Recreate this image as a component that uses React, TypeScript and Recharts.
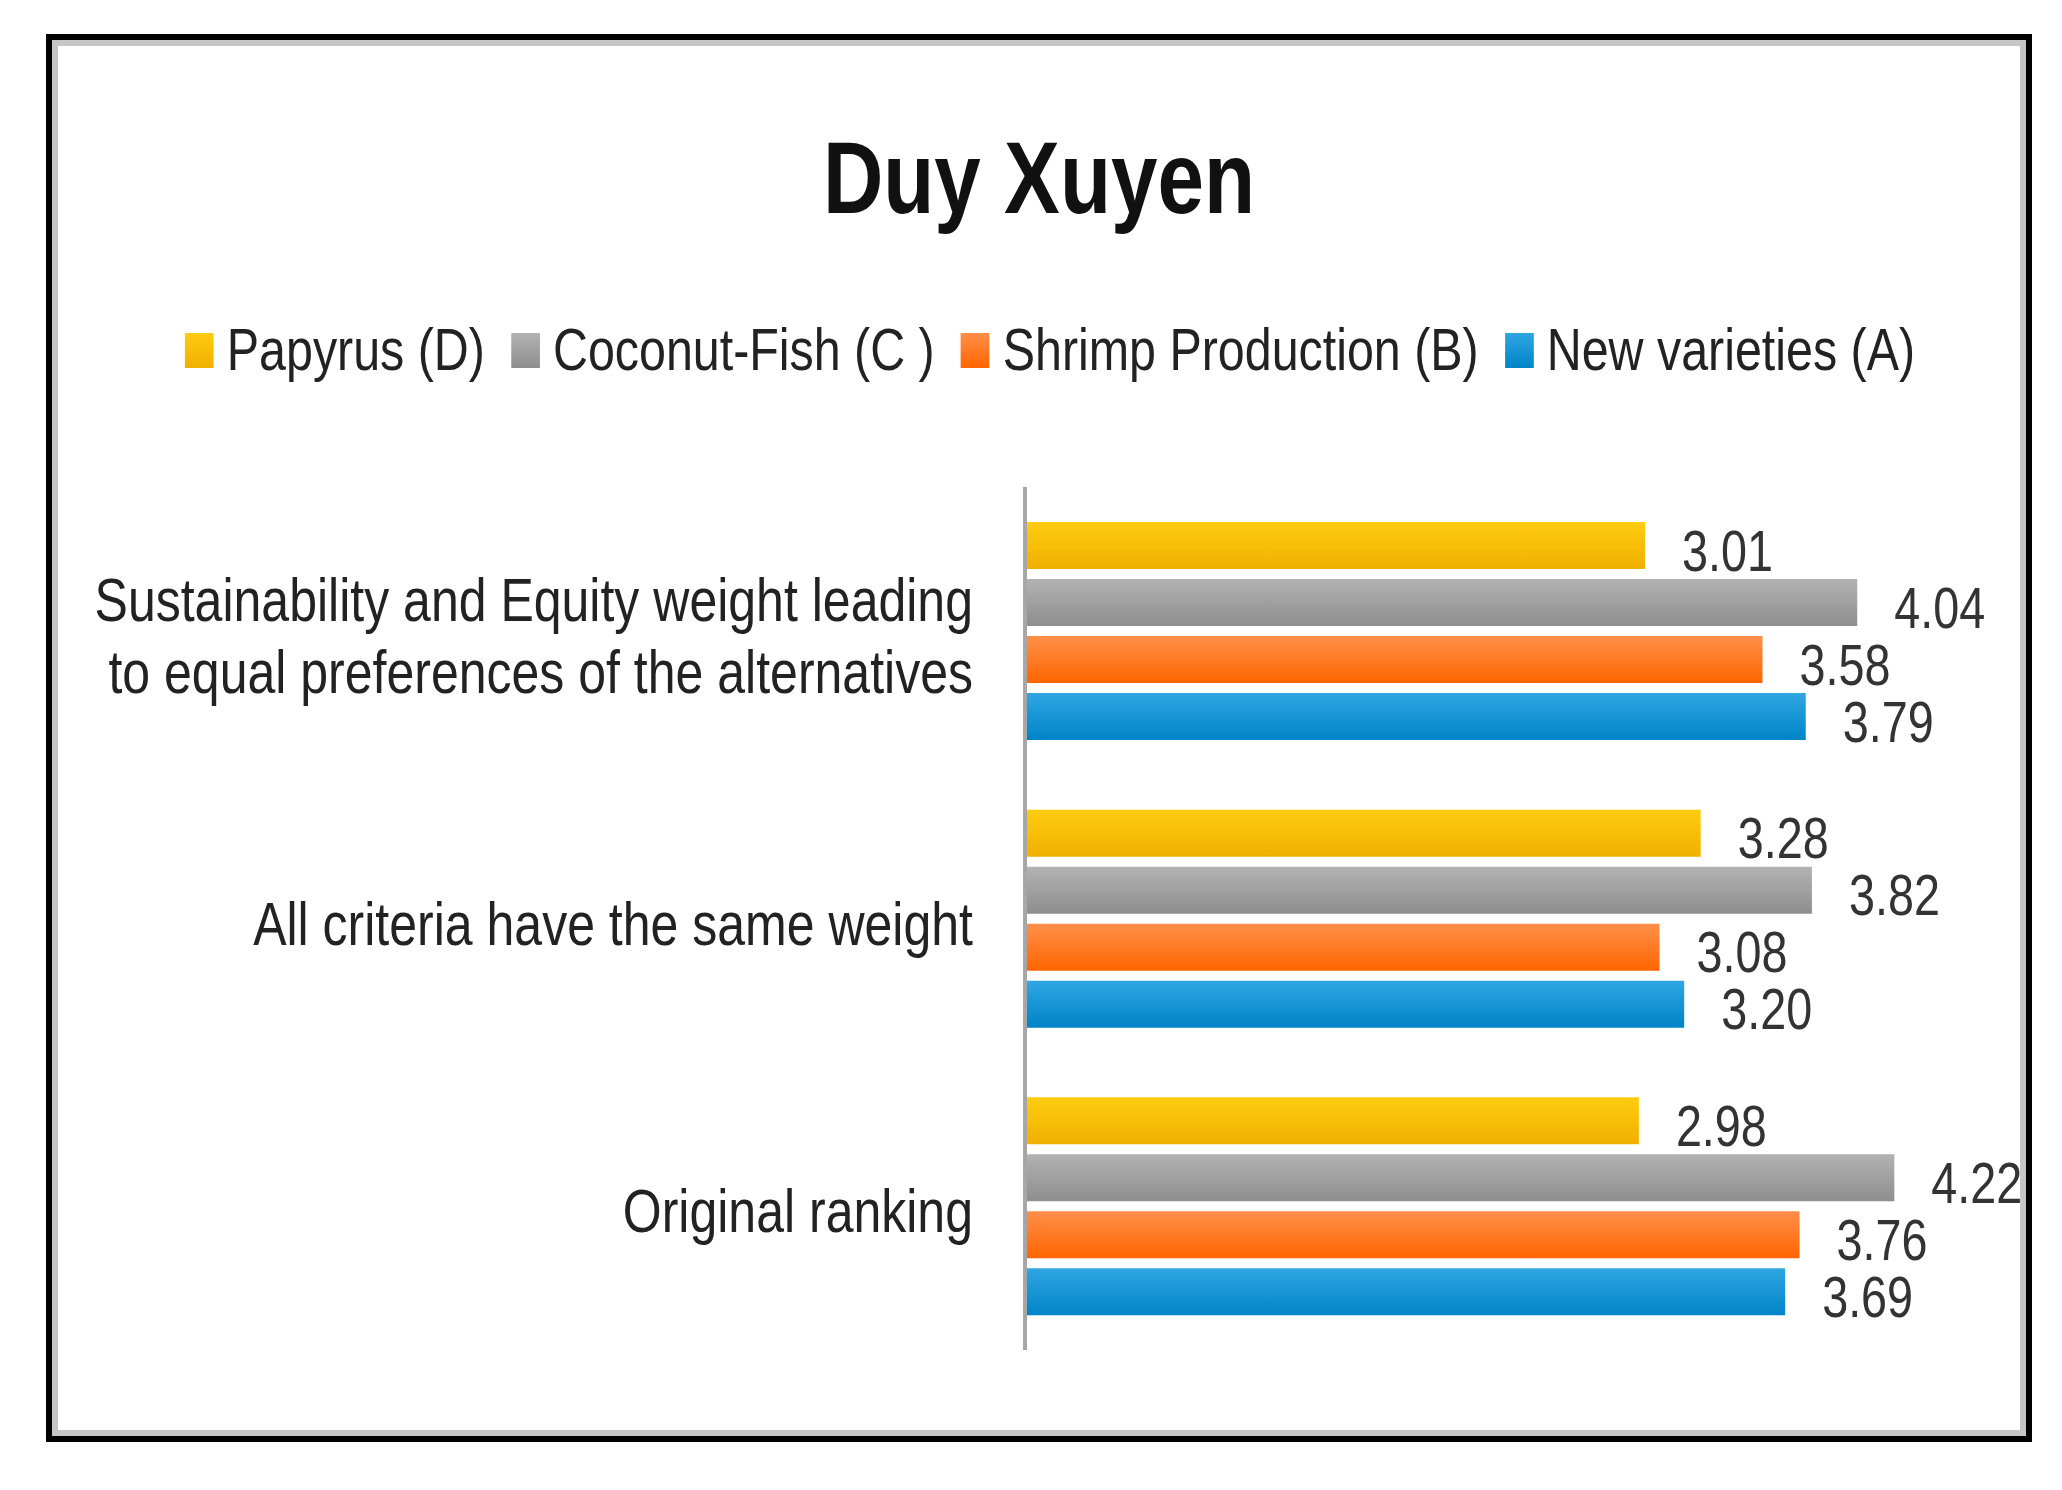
import { Bar, BarChart, LabelList, XAxis, YAxis } from "recharts";

// no narrow font installed, so text is squeezed horizontally to get the condensed look
const FONT = "'Liberation Sans', Arial, sans-serif";
const SQUEEZE = 0.82;

const title = "Duy Xuyen";

const categories = [
  "Sustainability and Equity weight leading\nto equal preferences of the alternatives",
  "All criteria have the same weight",
  "Original ranking",
];

const papyrus = [3.01, 3.28, 2.98];
const coconutFish = [4.04, 3.82, 4.22];
const shrimp = [3.58, 3.08, 3.76];
const newVarieties = [3.79, 3.2, 3.69];

const xDomain = [0, 4.5];

const series = [
  { key: "papyrus", name: "Papyrus (D)", top: "#ffcc10", bottom: "#f0b000" },
  { key: "coconut", name: "Coconut-Fish (C )", top: "#b2b2b2", bottom: "#8e8e8e" },
  { key: "shrimp", name: "Shrimp Production (B)", top: "#ff8f4a", bottom: "#ff6500" },
  { key: "newVar", name: "New varieties (A)", top: "#30a6e2", bottom: "#0084c8" },
];

const data = categories.map((category, i) => ({
  category,
  papyrus: papyrus[i],
  coconut: coconutFish[i],
  shrimp: shrimp[i],
  newVar: newVarieties[i],
}));

function CategoryTick({ x, y, payload }: { x?: number; y?: number; payload?: { value: string } }) {
  const lines = (payload?.value ?? "").split("\n");
  const lineHeight = 72;
  const startDy = -((lines.length - 1) / 2) * lineHeight + 26;
  return (
    <g transform={`translate(${x},${y}) scale(${SQUEEZE},1)`}>
      <text x={0} y={0} textAnchor="end" fontFamily={FONT} fontSize={61} fill="#222">
        {lines.map((line, i) => (
          <tspan key={i} x={0} dy={i === 0 ? startDy : lineHeight}>
            {line}
          </tspan>
        ))}
      </text>
    </g>
  );
}

function ValueLabel(props: any) {
  const { x, y, width, height, value } = props;
  const lx = Number(x) + Number(width) + 37;
  const ly = Number(y) + Number(height) / 2;
  return (
    <g transform={`translate(${lx},${ly}) scale(${SQUEEZE},1)`}>
      <text x={0} y={0} dy={25} fontFamily={FONT} fontSize={57} fill="#333">
        {Number(value).toFixed(2)}
      </text>
    </g>
  );
}

export default function App() {
  return (
    <div style={{ position: "absolute", left: 0, top: 0, width: 2062, height: 1490, background: "#fff" }}>
      <div
        style={{
          position: "absolute",
          left: 46,
          top: 34,
          width: 1986,
          height: 1408,
          boxSizing: "border-box",
          border: "6px solid #000",
        }}
      >
        <div style={{ width: "100%", height: "100%", boxSizing: "border-box", border: "6px solid #c6c6c6" }} />
      </div>

      <svg style={{ position: "absolute", left: 0, top: 0 }} width={2062} height={300}>
        <g transform={`translate(1039,213) scale(${SQUEEZE},1)`}>
          <text x={0} y={0} textAnchor="middle" fontFamily={FONT} fontWeight="bold" fontSize={102} fill="#111">
            {title}
          </text>
        </g>
      </svg>

      <div
        style={{
          position: "absolute",
          left: 57,
          top: 318,
          width: 1986,
          display: "flex",
          justifyContent: "center",
          alignItems: "center",
          fontFamily: FONT,
          fontSize: 59,
          lineHeight: "64px",
          color: "#222",
          whiteSpace: "nowrap",
          transform: `scaleX(${SQUEEZE})`,
          transformOrigin: "center",
        }}
      >
        {series.map((s, i) => (
          <div key={s.key} style={{ display: "flex", alignItems: "center", marginLeft: i === 0 ? 0 : 32 }}>
            <span
              style={{
                display: "inline-block",
                width: 35,
                height: 35,
                marginRight: 16,
                background: `linear-gradient(${s.top}, ${s.bottom})`,
              }}
            />
            <span>{s.name}</span>
          </div>
        ))}
      </div>

      <div style={{ position: "absolute", left: 0, top: 0 }}>
        <BarChart
          width={2062}
          height={1490}
          data={data}
          layout="vertical"
          margin={{ top: 487, right: 110, bottom: 140, left: 0 }}
          barCategoryGap={35}
          barGap={10}
        >
          <defs>
            {series.map((s) => (
              <linearGradient key={s.key} id={`grad-${s.key}`} x1="0" y1="0" x2="0" y2="1">
                <stop offset="0%" stopColor={s.top} />
                <stop offset="100%" stopColor={s.bottom} />
              </linearGradient>
            ))}
          </defs>
          <XAxis type="number" domain={xDomain} hide />
          <YAxis
            type="category"
            dataKey="category"
            width={1025}
            tickLine={false}
            tickSize={0}
            tickMargin={52}
            axisLine={{ stroke: "#a6a6a6", strokeWidth: 4 }}
            tick={<CategoryTick />}
            interval={0}
          />
          {series.map((s) => (
            <Bar key={s.key} dataKey={s.key} name={s.name} fill={`url(#grad-${s.key})`} isAnimationActive={false}>
              <LabelList dataKey={s.key} content={<ValueLabel />} />
            </Bar>
          ))}
        </BarChart>
      </div>
    </div>
  );
}
